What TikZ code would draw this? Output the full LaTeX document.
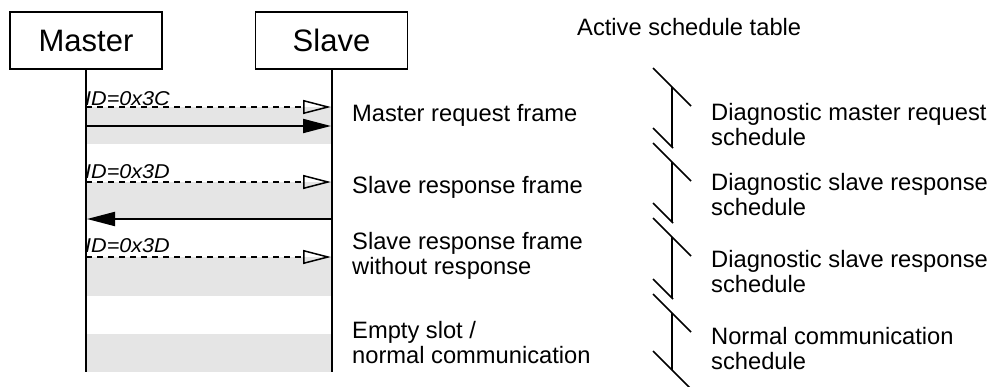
\documentclass[tikz,border=0pt]{standalone}
\usepackage{fontspec}
\setmainfont{Liberation Sans}
\usetikzlibrary{arrows.meta}
\definecolor{bandgray}{HTML}{E5E5E5}
\begin{document}
\begin{tikzpicture}[x=1pt,y=-1pt,
  box/.style={draw, line width=1.5pt, minimum width=152pt, minimum height=57pt, inner sep=0pt, font=\fontsize{31}{31}\selectfont},
  life/.style={line width=2pt},
  band/.style={fill=bandgray, draw=none},
  req/.style={line width=1.5pt, dash pattern=on 6pt off 5pt, -{Triangle[open,length=28pt,width=14pt]}},
  msg/.style={line width=2pt, -{Triangle[length=28pt,width=14pt]}},
  idlbl/.style={font=\fontsize{20}{20}\selectfont\itshape, anchor=base west, inner sep=0pt},
  lbl/.style={font=\fontsize{23.7}{25}\selectfont, anchor=north west, inner sep=0pt, align=left},
  tl/.style={line width=2.5pt},
  slashln/.style={line width=1.5pt}
]
\useasboundingbox (0,0) rectangle (990,387);

% bands
\fill[band] (86,107) rectangle (331,144);
\fill[band] (86,182) rectangle (331,220);
\fill[band] (86,257) rectangle (331,296);
\fill[band] (86,334) rectangle (331,372);

% boxes
\node[box] (master) at (86,40.5) {Master};
\node[box] (slave) at (331.5,40.5) {Slave};

% lifelines
\coordinate (mEnd) at (86,372);
\coordinate (sEnd) at (331.5,372);
\draw[life] (master.south) -- (mEnd);
\draw[life] (slave.south) -- (sEnd);

% messages
\coordinate (m1) at (86,107);  \coordinate (s1) at (331,107);
\coordinate (m2) at (86,126);  \coordinate (s2) at (331,126);
\coordinate (m3) at (86,182);  \coordinate (s3) at (331,182);
\coordinate (m4) at (87,219);  \coordinate (s4) at (331,219);
\coordinate (m5) at (86,257);  \coordinate (s5) at (331,257);
\draw[req] (m1) -- (s1);
\draw[msg] (m2) -- (s2);
\draw[req] (m3) -- (s3);
\draw[msg] (s4) -- (m4);
\draw[req] (m5) -- (s5);

\node[idlbl] (id1) at (85,106) {\scalebox{1.08}[1]{ID=0x3C}};
\node[idlbl] (id2) at (85,179) {\scalebox{1.08}[1]{ID=0x3D}};
\node[idlbl] (id3) at (85,253) {\scalebox{1.08}[1]{ID=0x3D}};

% frame labels
\node[lbl] (f1) at (352,104) {Master request frame};
\node[lbl] (f2) at (352,176) {Slave response frame};
\node[lbl] (f3) at (352,232) {Slave response frame\\without response};
\node[lbl] (f4) at (352,321) {Empty slot /\\normal communication};

% title
\node[font=\fontsize{23.7}{25}\selectfont, anchor=base west, inner sep=0pt] (title) at (577,35.5) {Active schedule table};

% schedule timeline
\coordinate (t1) at (672,87);  \coordinate (b1) at (672,147);
\coordinate (t2) at (672,162); \coordinate (b2) at (672,222);
\coordinate (t3) at (672,237); \coordinate (b3) at (672,298);
\coordinate (t4) at (672,313); \coordinate (b4) at (672,370);
\draw[tl] (t1) -- (b1);
\draw[tl] (t2) -- (b2);
\draw[tl] (t3) -- (b3);
\draw[tl] (t4) -- (b4);
\draw[slashln] (t1) ++(-19,-19) -- ++(38,38);
\draw[slashln] (t2) ++(-19,-19) -- ++(38,38);
\draw[slashln] (t3) ++(-19,-19) -- ++(38,38);
\draw[slashln] (t4) ++(-19,-19) -- ++(38,38);
\draw[slashln] (b1) ++(-19,-19) -- ++(20,20);
\draw[slashln] (b2) ++(-19,-19) -- ++(20,20);
\draw[slashln] (b3) ++(-19,-19) -- ++(20,20);
\draw[slashln] (b4) ++(-19,-19) -- ++(38,38);

% schedule labels
\node[lbl] (d1) at (711,103) {Diagnostic master request\\schedule};
\node[lbl] (d2) at (711,173) {Diagnostic slave response\\schedule};
\node[lbl] (d3) at (711,250) {Diagnostic slave response\\schedule};
\node[lbl] (d4) at (711,327) {Normal communication\\schedule};
\end{tikzpicture}
\end{document}
